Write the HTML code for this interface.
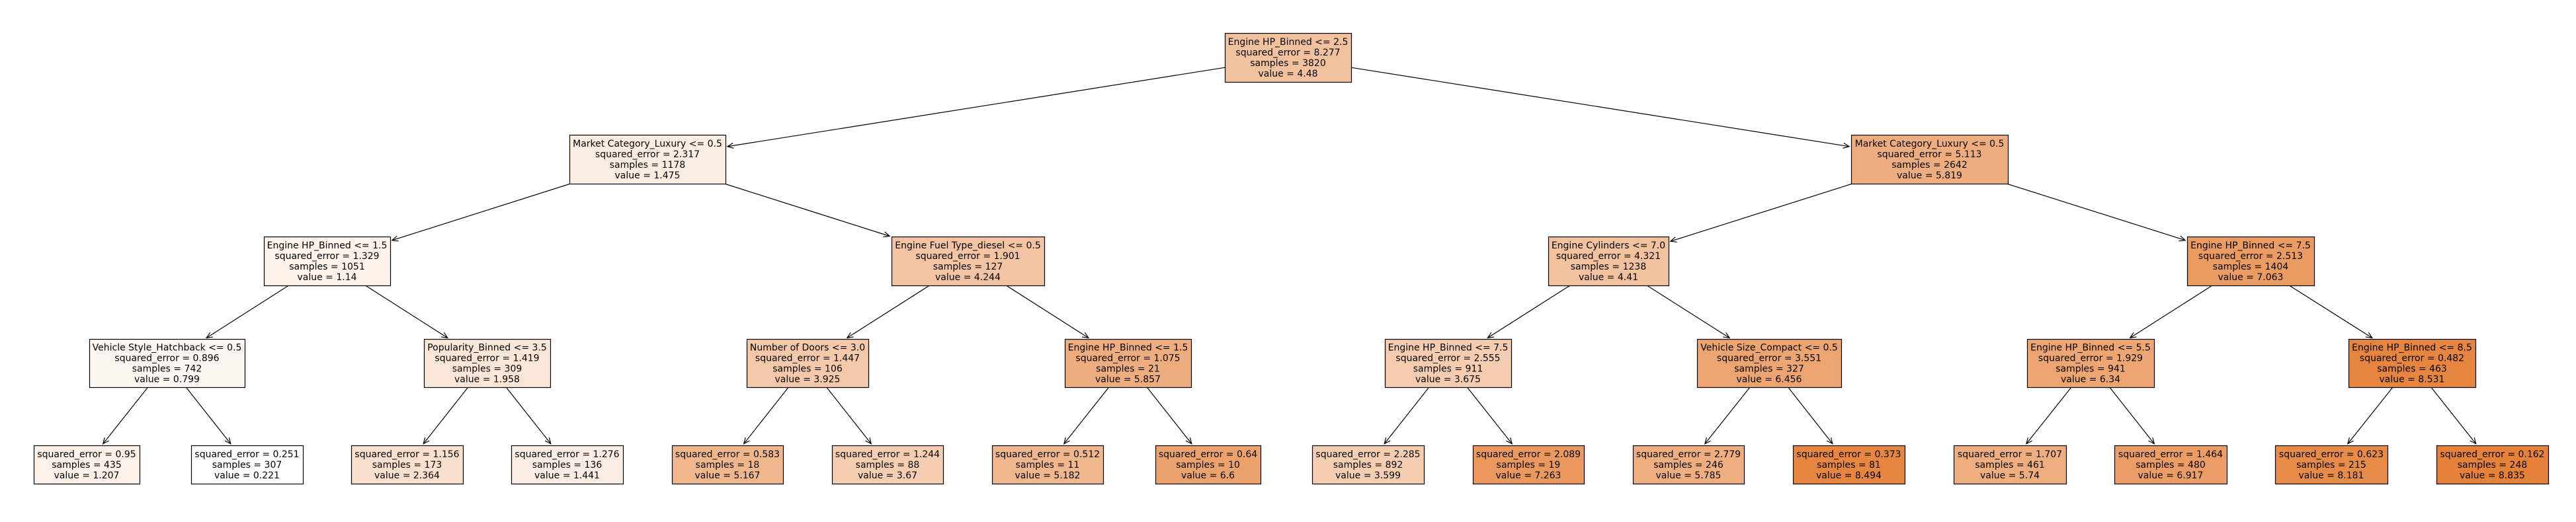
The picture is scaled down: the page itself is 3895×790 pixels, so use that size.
<!DOCTYPE html>
<html><head><meta charset="utf-8"><style>
html,body{margin:0;padding:0;background:#fff;width:3895px;height:790px;overflow:hidden}
svg text{font-family:"DejaVu Sans","Liberation Sans",sans-serif;font-size:14px;fill:#000}
</style></head><body>
<svg id="s" width="3895" height="790" xmlns="http://www.w3.org/2000/svg"></svg>
<script>
var Y=[[50,124],[204,278],[358,432],[513,586],[674,732]];
var N={
r:[0,1852,2043,"242,193,157",["Engine HP_Binned <= 2.5","squared_error = 8.277","samples = 3820","value = 4.48"]],
a:[1,861,1097,"251,237,226",["Market Category_Luxury <= 0.5","squared_error = 2.317","samples = 1178","value = 1.475"],"r"],
b:[1,2799,3036,"238,173,126",["Market Category_Luxury <= 0.5","squared_error = 5.113","samples = 2642","value = 5.819"],"r"],
c:[2,399,590,"252,242,234",["Engine HP_Binned <= 1.5","squared_error = 1.329","samples = 1051","value = 1.14"],"a"],
d:[2,1348,1579,"243,196,163",["Engine Fuel Type_diesel <= 0.5","squared_error = 1.901","samples = 127","value = 4.244"],"a"],
e:[2,2341,2523,"242,194,159",["Engine Cylinders <= 7.0","squared_error = 4.321","samples = 1238","value = 4.41"],"b"],
f:[2,3307,3499,"234,155,98",["Engine HP_Binned <= 7.5","squared_error = 2.513","samples = 1404","value = 7.063"],"b"],
g:[3,135,370,"253,247,242",["Vehicle Style_Hatchback <= 0.5","squared_error = 0.896","samples = 742","value = 0.799"],"c"],
h:[3,641,832,"250,230,215",["Popularity_Binned <= 3.5","squared_error = 1.419","samples = 309","value = 1.958"],"c"],
i:[3,1129,1313,"244,201,170",["Number of Doors <= 3.0","squared_error = 1.447","samples = 106","value = 3.925"],"d"],
j:[3,1610,1801,"238,173,126",["Engine HP_Binned <= 1.5","squared_error = 1.075","samples = 21","value = 5.857"],"d"],
k:[3,2094,2285,"245,204,176",["Engine HP_Binned <= 7.5","squared_error = 2.555","samples = 911","value = 3.675"],"e"],
l:[3,2566,2784,"236,164,112",["Vehicle Size_Compact <= 0.5","squared_error = 3.551","samples = 327","value = 6.456"],"e"],
m:[3,3065,3257,"237,166,114",["Engine HP_Binned <= 5.5","squared_error = 1.929","samples = 941","value = 6.34"],"f"],
n:[3,3551,3743,"230,133,64",["Engine HP_Binned <= 8.5","squared_error = 0.482","samples = 463","value = 8.531"],"f"],
o1:[4,51,211,"252,241,232",["squared_error = 0.95","samples = 435","value = 1.207"],"g"],
o2:[4,289,458,"255,255,255",["squared_error = 0.251","samples = 307","value = 0.221"],"g"],
o3:[4,531,700,"249,224,206",["squared_error = 1.156","samples = 173","value = 2.364"],"h"],
o4:[4,773,942,"251,237,227",["squared_error = 1.276","samples = 136","value = 1.441"],"h"],
o5:[4,1016,1184,"240,183,141",["squared_error = 0.583","samples = 18","value = 5.167"],"i"],
o6:[4,1258,1426,"245,205,176",["squared_error = 1.244","samples = 88","value = 3.67"],"i"],
o7:[4,1500,1668,"240,182,141",["squared_error = 0.512","samples = 11","value = 5.182"],"j"],
o8:[4,1747,1906,"236,162,108",["squared_error = 0.64","samples = 10","value = 6.6"],"j"],
o9:[4,1984,2153,"245,206,177",["squared_error = 2.285","samples = 892","value = 3.599"],"k"],
o10:[4,2227,2395,"234,152,93",["squared_error = 2.089","samples = 19","value = 7.263"],"k"],
o11:[4,2469,2637,"238,174,127",["squared_error = 2.779","samples = 246","value = 5.785"],"l"],
o12:[4,2711,2880,"230,134,65",["squared_error = 0.373","samples = 81","value = 8.494"],"l"],
o13:[4,2954,3124,"238,174,128",["squared_error = 1.707","samples = 461","value = 5.74"],"m"],
o14:[4,3197,3367,"235,157,101",["squared_error = 1.464","samples = 480","value = 6.917"],"m"],
o15:[4,3440,3610,"231,139,72",["squared_error = 0.623","samples = 215","value = 8.181"],"n"],
o16:[4,3684,3853,"229,129,57",["squared_error = 0.162","samples = 248","value = 8.835"],"n"]
};
function box(k){var n=N[k];return {x0:n[1],x1:n[2],y0:Y[n[0]][0],y1:Y[n[0]][1],cx:(n[1]+n[2])/2,cy:(Y[n[0]][0]+Y[n[0]][1])/2};}
function exitT(b,dx,dy){var tx=Math.abs(dx)>0?((b.x1-b.x0)/2)/Math.abs(dx):1e9,ty=Math.abs(dy)>0?((b.y1-b.y0)/2)/Math.abs(dy):1e9;return Math.min(tx,ty);}
var h="";
for(var k in N){var n=N[k];if(!n[5])continue;var p=box(n[5]),c=box(k);
 var dx=c.cx-p.cx,dy=c.cy-p.cy;var t0=exitT(p,dx,dy),t1=1-exitT(c,-dx,-dy);
 var L=Math.sqrt(dx*dx+dy*dy);var g=3/L;
 var x0=p.cx+dx*t0,y0=p.cy+dy*t0,x1=p.cx+dx*(t1-g),y1=p.cy+dy*(t1-g);
 h+='<line x1="'+x0+'" y1="'+y0+'" x2="'+x1+'" y2="'+y1+'" stroke="#000" stroke-width="1.2"/>';
 var ux=dx/L,uy=dy/L,a=9,w=4;
 var bx=x1-ux*a,by=y1-uy*a;
 h+='<polyline points="'+(bx-uy*w)+','+(by+ux*w)+' '+x1+','+y1+' '+(bx+uy*w)+','+(by-ux*w)+'" fill="none" stroke="#000" stroke-width="1.2"/>';
}
for(var k in N){var n=N[k],b=box(k);
 h+='<rect x="'+(b.x0+0.5)+'" y="'+(b.y0+0.5)+'" width="'+(b.x1-b.x0)+'" height="'+(b.y1-b.y0)+'" fill="rgb('+n[3]+')" stroke="#000" stroke-width="1.2"/>';
 var lines=n[4],nl=lines.length,sy=b.cy-(nl-1)*8;
 for(var i=0;i<nl;i++)h+='<text x="'+b.cx+'" y="'+(sy+i*16+5)+'" text-anchor="middle">'+lines[i].replace(/</g,"&lt;")+'</text>';
}
document.getElementById("s").innerHTML=h;
</script>
</body></html>
